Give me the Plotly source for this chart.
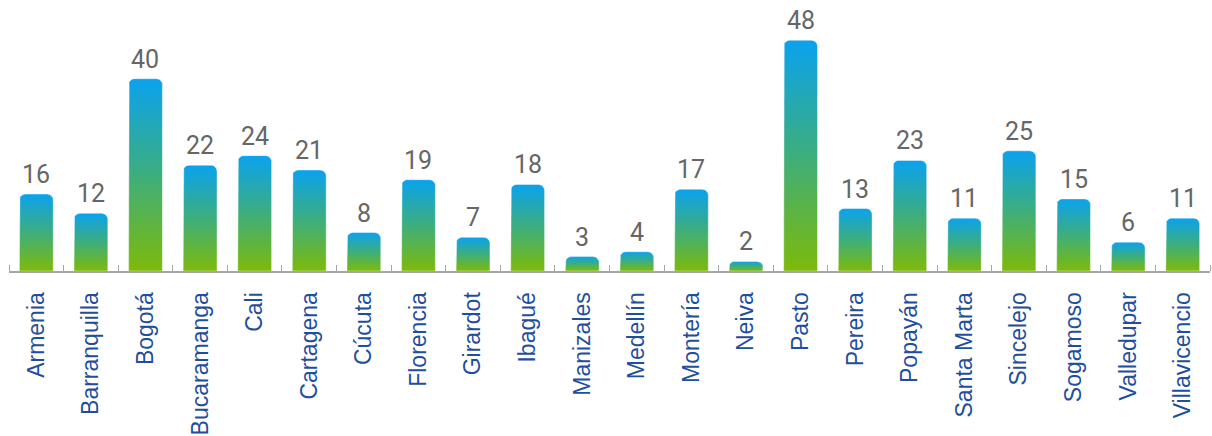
import numpy as np
import plotly.graph_objects as go

cities = ["Armenia", "Barranquilla", "Bogotá", "Bucaramanga", "Cali", "Cartagena",
          "Cúcuta", "Florencia", "Girardot", "Ibagué", "Manizales", "Medellín",
          "Montería", "Neiva", "Pasto", "Pereira", "Popayán", "Santa Marta",
          "Sincelejo", "Sogamoso", "Valledupar", "Villavicencio"]
values = [16, 12, 40, 22, 24, 21, 8, 19, 7, 18, 3, 4, 17, 2, 48, 13, 23, 11, 25, 15, 6, 11]

GREEN = "#7DBA0A"
BLUE = "#0AA2EE"
BAR_W = 0.62
Y_MAX = 54.3
RX, RY = 0.11, 1.25  # corner radius in data units (~6px)


def bar_outline(xc, v):
    x0, x1 = xc - BAR_W / 2, xc + BAR_W / 2
    ry = min(RY, v / 2)
    t = np.linspace(np.pi, np.pi / 2, 8)
    left_x = x0 + RX + RX * np.cos(t)
    left_y = v - ry + ry * np.sin(t)
    t2 = np.linspace(np.pi / 2, 0, 8)
    right_x = x1 - RX + RX * np.cos(t2)
    right_y = v - ry + ry * np.sin(t2)
    xs = [x0] + list(left_x) + list(right_x) + [x1, x0]
    ys = [0] + list(left_y) + list(right_y) + [0, 0]
    return xs, ys


fig = go.Figure()
for i, (c, v) in enumerate(zip(cities, values)):
    xs, ys = bar_outline(i, v)
    fig.add_trace(go.Scatter(
        x=xs, y=ys, mode="lines", fill="toself",
        line=dict(width=0.8, color="rgba(255,255,255,0.5)"),
        fillgradient=dict(type="vertical", colorscale=[[0, GREEN], [0.5, "#3DAE7C"], [1, BLUE]]),
        hoverinfo="skip", showlegend=False, name=c,
    ))

for i, v in enumerate(values):
    fig.add_annotation(x=i, y=v, text=str(v), showarrow=False, yanchor="bottom",
                       yshift=3, font=dict(family="Roboto", size=25, color="#666666"))

fig.update_layout(
    width=1212, height=436,
    margin=dict(l=9, r=2, t=10, b=165, autoexpand=False),
    plot_bgcolor="white", paper_bgcolor="white",
    showlegend=False,
)
fig.update_xaxes(
    range=[-0.5, len(cities) - 0.5], automargin=False,
    tickvals=list(range(len(cities))), ticktext=cities,
    tickangle=-90, ticks="", ticklabelstandoff=10,
    tickfont=dict(family="Liberation Sans, Arial", size=23, color="#1F4E9C"),
    showline=True, linecolor="#A6A6A6", linewidth=2,
    showgrid=False, zeroline=False,
    minor=dict(tickvals=list(np.arange(-0.5, len(cities), 1.0)), ticks="inside",
               ticklen=6, tickcolor="#A6A6A6", tickwidth=1, showgrid=False),
)
fig.update_yaxes(range=[0, Y_MAX], visible=False, showgrid=False, zeroline=False,
                 automargin=False)

# drop the browser's default body margin so the figure sits at the window corner
fig.write_html("out.html", config={"displayModeBar": False},
               post_script="document.body.style.margin='0';")
